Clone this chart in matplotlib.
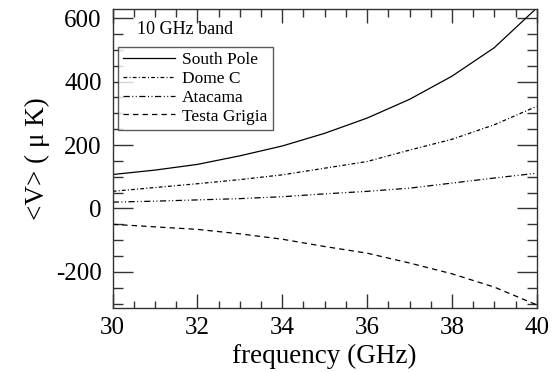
import matplotlib
matplotlib.use("Agg")
import matplotlib.pyplot as plt
from matplotlib.ticker import MultipleLocator

freq = [30, 31, 32, 33, 34, 35, 36, 37, 38, 39, 40]
south_pole = [107, 121, 139, 166, 197, 237, 285, 344, 417, 507, 632]
dome_c = [54, 66, 78, 91, 106, 127, 148, 184, 218, 264, 322]
atacama = [20, 23, 27, 31, 37, 46, 54, 64, 80, 96, 111]
testa_grigia = [-50, -58, -66, -80, -97, -120, -141, -172, -206, -248, -304]

labels = ["South Pole", "Dome C", "Atacama", "Testa Grigia"]
series = [south_pole, dome_c, atacama, testa_grigia]
dashes = [None, (3, 1.8, 0.8, 1.8), (5, 2, 0.8, 2, 0.8, 2), (4.3, 3.3)]

plt.rcParams['font.family'] = ['Liberation Serif', 'DejaVu Serif']
plt.rcParams['axes.unicode_minus'] = False

fig = plt.figure(figsize=(5.54, 3.72), dpi=100)
ax = fig.add_axes([0.2034, 0.1728, 0.7654, 0.8022])

for lab, ys, d in zip(labels, series, dashes):
    line, = ax.plot(freq, ys, color='black', lw=0.9, label=lab)
    if d is not None:
        line.set_dashes(d)

ax.set_xlim(30, 40)
ax.set_ylim(-313, 628)
ax.xaxis.set_major_locator(MultipleLocator(2))
ax.xaxis.set_minor_locator(MultipleLocator(0.5))
ax.yaxis.set_major_locator(MultipleLocator(200))
ax.yaxis.set_minor_locator(MultipleLocator(50))

ax.tick_params(axis='both', which='both', direction='in', top=True, right=True, color='#333333')
ax.tick_params(axis='x', which='major', length=10, width=1, labelsize=18, pad=7)
ax.tick_params(axis='x', which='minor', length=5.4, width=1)
ax.tick_params(axis='y', which='major', length=14.7, width=1, labelsize=18, pad=8)
ax.tick_params(axis='y', which='minor', length=7.5, width=1)
for s in ax.spines.values():
    s.set_linewidth(1)
    s.set_color('#333333')

ax.set_xlabel("frequency (GHz)", fontsize=19.5, labelpad=3)
ax.set_ylabel("<V> ( μ K)", fontsize=19.5, labelpad=4)

ax.text(0.057, 0.931, "10 GHz band", transform=ax.transAxes, fontsize=13,
        ha='left', va='center')

leg = ax.legend(loc='upper left', bbox_to_anchor=(0.0125, 0.874), borderaxespad=0,
                fontsize=12.5, frameon=True, fancybox=False, handlelength=3.0,
                handletextpad=0.4, labelspacing=0.15, borderpad=0.3)
leg.get_frame().set_edgecolor('#333333')
leg.get_frame().set_linewidth(1)

fig.savefig("out.png", dpi=100)
